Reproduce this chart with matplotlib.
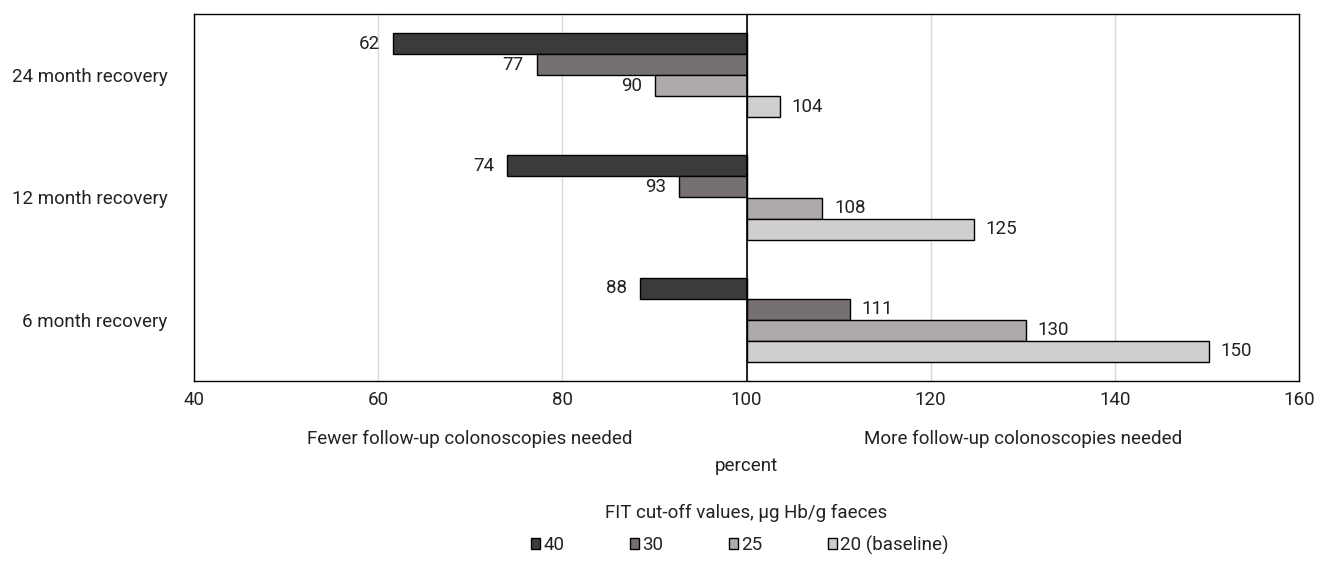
import matplotlib.pyplot as plt
import numpy as np

plt.rcParams['font.family'] = ['Roboto', 'DejaVu Sans']

categories = ["24 month recovery", "12 month recovery", "6 month recovery"]
series = ["40", "30", "25", "20 (baseline)"]
values = {
    "40": [61.6, 74.0, 88.4],
    "30": [77.2, 92.7, 111.2],
    "25": [90.1, 108.2, 130.3],
    "20 (baseline)": [103.6, 124.7, 150.2],
}
labels = {
    "40": [62, 74, 88],
    "30": [77, 93, 111],
    "25": [90, 108, 130],
    "20 (baseline)": [104, 125, 150],
}
colors = ["#3d3b3a", "#767170", "#aeaaa9", "#d0cecf"]
fs = 13.5
tc = "#222222"

fig = plt.figure(figsize=(13.17, 5.65), dpi=100)
ax = fig.add_axes([194 / 1317, 1 - 381 / 565, 1105 / 1317, 367 / 565])

base = 100
h = 0.172
y0 = np.arange(len(categories))
for i, s in enumerate(series):
    y = y0 + (i - 1.5) * h
    v = np.array(values[s])
    ax.barh(y, v - base, left=base, height=h, color=colors[i],
            edgecolor="black", linewidth=1.0, zorder=3, label=s)
    for yy, vv, lab in zip(y, v, labels[s]):
        if vv < base:
            ax.text(vv - 1.4, yy, str(lab), ha="right", va="center", fontsize=fs, color=tc)
        else:
            ax.text(vv + 1.3, yy, str(lab), ha="left", va="center", fontsize=fs, color=tc)

ax.set_xlim(40, 160)
ax.set_ylim(2.5, -0.5)
ax.set_yticks(y0)
ax.set_yticklabels(categories, fontsize=fs, color=tc)
ax.set_xticks([40, 60, 80, 100, 120, 140, 160])
ax.tick_params(axis="x", labelsize=fs, length=0, pad=7, colors=tc)
ax.tick_params(axis="y", length=0, pad=19)
ax.grid(axis="x", color="#d9d9d9", linewidth=1.0, zorder=0)
ax.axvline(100, color="black", linewidth=1.2, zorder=4)
for sp in ax.spines.values():
    sp.set_color("black")
    sp.set_linewidth(1.0)

fig.text(470 / 1317, 1 - 439 / 565, "Fewer follow-up colonoscopies needed", ha="center", va="center", fontsize=fs, color=tc)
fig.text(1023 / 1317, 1 - 439 / 565, "More follow-up colonoscopies needed", ha="center", va="center", fontsize=fs, color=tc)
fig.text(746 / 1317, 1 - 466 / 565, "percent", ha="center", va="center", fontsize=fs, color=tc)
fig.text(746 / 1317, 1 - 513 / 565, "FIT cut-off values, µg Hb/g faeces", ha="center", va="center", fontsize=fs, color=tc)

leg = fig.legend(loc="center left", bbox_to_anchor=(531 / 1317, 1 - 545 / 565), ncol=4, frameon=False,
                 fontsize=fs, handlelength=0.5, handleheight=0.5, handletextpad=0.15,
                 columnspacing=3.5, borderpad=0, borderaxespad=0)
for t in leg.get_texts():
    t.set_color(tc)

fig.savefig("out.png", dpi=100)
